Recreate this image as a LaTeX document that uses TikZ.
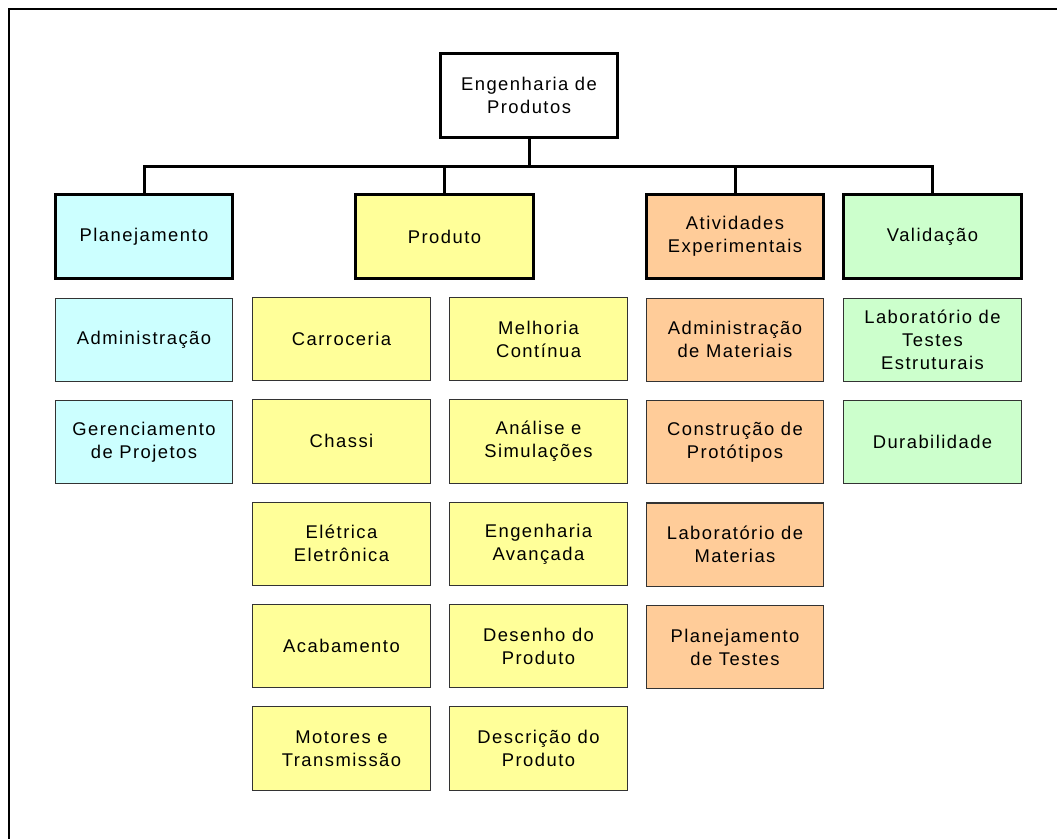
\documentclass[tikz,border=0pt]{standalone}
\usepackage{fontspec}
\setmainfont[LetterSpace=8]{Liberation Sans}
\usetikzlibrary{positioning}
\definecolor{ciano}{HTML}{CCFFFF}
\definecolor{amarelo}{HTML}{FFFF99}
\definecolor{laranja}{HTML}{FFCC99}
\definecolor{verde}{HTML}{CCFFCC}

\begin{document}
\begin{tikzpicture}[x=0.75pt, y=-0.75pt,
	font=\fontsize{13.8}{17.25}\selectfont,
	caixa/.style={draw, align=center, minimum width=133pt, minimum height=62.5pt, inner sep=0pt},
	chefe/.style={caixa, line width=2.25pt},
	sub/.style={caixa, draw=black!80, line width=0.8pt},
	liga/.style={line width=2.25pt},
	node distance=13.5pt]
				\useasboundingbox (0,0) rectangle (1057,839);
				\draw[line width=1.2pt] (9,839) -- (9,9) -- (1057,9);
				\node[chefe] (eng) at (529,95.5) {Engenharia de\\Produtos};
				\node[chefe, fill=ciano] (plan) at (144,236.5) {Planejamento};
				\node[chefe, fill=amarelo] (prod) at (444.5,236.5) {Produto};
				\node[chefe, fill=laranja] (ativ) at (735,236.5) {Atividades\\Experimentais};
				\node[chefe, fill=verde] (valid) at (932.5,236.5) {Validação};
				% planejamento
				\node[sub, fill=ciano, below=of plan] (adm) {Administração};
				\node[sub, fill=ciano, below=of adm] (gerproj) {Gerenciamento\\de Projetos};
				% produto
				\node[sub, fill=amarelo] (carr) at (341.5,339) {Carroceria};
				\node[sub, fill=amarelo, below=of carr] (chassi) {Chassi};
				\node[sub, fill=amarelo, below=of chassi] (eletr) {Elétrica\\Eletrônica};
				\node[sub, fill=amarelo, below=of eletr] (acab) {Acabamento};
				\node[sub, fill=amarelo, below=of acab] (motor) {Motores e\\Transmissão};
				\node[sub, fill=amarelo] (melh) at (538.5,339) {Melhoria\\Contínua};
				\node[sub, fill=amarelo, below=of melh] (anal) {Análise e\\Simulações};
				\node[sub, fill=amarelo, below=of anal] (engav) {Engenharia\\Avançada};
				\node[sub, fill=amarelo, below=of engav] (desen) {Desenho do\\Produto};
				\node[sub, fill=amarelo, below=of desen] (descr) {Descrição do\\Produto};
				% atividades
				\node[sub, fill=laranja, below=of ativ] (admmat) {Administração\\de Materiais};
				\node[sub, fill=laranja, below=of admmat] (constr) {Construção de\\Protótipos};
				\node[sub, fill=laranja, below=of constr] (labmat) {Laboratório de\\Materias};
				\node[sub, fill=laranja, below=of labmat] (plantest) {Planejamento\\de Testes};
				% validacao
				\node[sub, fill=verde, below=of valid] (labtest) {Laboratório de\\Testes\\Estruturais};
				\node[sub, fill=verde, below=of labtest] (dur) {Durabilidade};
				\coordinate (barra) at (0,166);
				\draw[liga] (eng.south) -- (eng.south |- barra) -| (plan.north);
				\draw[liga] (eng.south |- barra) -| (prod.north);
				\draw[liga] (eng.south |- barra) -| (ativ.north);
				\draw[liga] (eng.south |- barra) -| (valid.north);
			\end{tikzpicture}
\end{document}
